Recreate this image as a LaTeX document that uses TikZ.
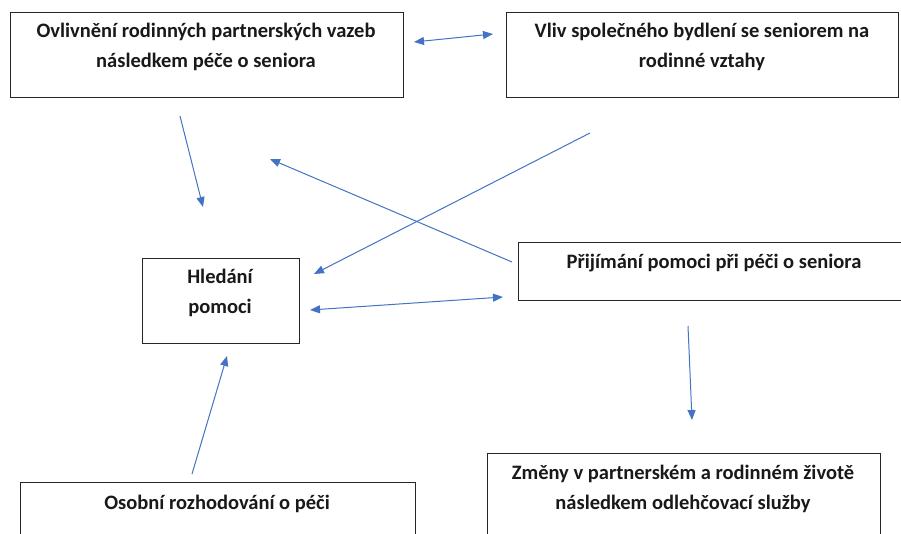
\documentclass[tikz,border=0pt]{standalone}
\usepackage{fontspec}
\setmainfont{Carlito}
\usetikzlibrary{arrows.meta}
\definecolor{arr}{HTML}{4472C4}
\definecolor{edgec}{HTML}{262626}
\begin{document}
\begin{tikzpicture}[x=1pt,y=-1pt,
  box/.style={draw=edgec, line width=1.3pt, anchor=north west, inner sep=0pt},
  txt/.style={font=\fontsize{20.5}{30}\selectfont\bfseries, align=center, text=black!90, inner sep=0pt, anchor=base},
  tip/.tip={Triangle[length=10pt,width=8pt]},
  link/.style={draw=arr, line width=1pt, -tip},
  both/.style={draw=arr, line width=1pt, tip-tip}]
\fill[white] (0,0) rectangle (901,533);
\clip (0,0) rectangle (901,533);

% boxes
\node[box, minimum width=393pt, minimum height=85pt] (b1) at (10,12) {};
\node[box, minimum width=392pt, minimum height=85pt] (b2) at (506,12) {};
\node[box, minimum width=157pt, minimum height=85pt] (b3) at (142,258) {};
\node[box, minimum width=392pt, minimum height=58pt] (b4) at (518,242) {};
\node[box, minimum width=395pt, minimum height=80pt] (b5) at (20,482) {};
\node[box, minimum width=393pt, minimum height=110pt] (b6) at (487,453) {};

% texts (anchor = baseline of last line)
\node[txt] (t1) at (206,67) {Ovlivnění rodinných partnerských vazeb\\následkem péče o seniora};
\node[txt] (t2) at (702,67) {Vliv společného bydlení se seniorem na\\rodinné vztahy};
\node[txt] (t3) at (220,313) {Hledání\\pomoci};
\node[txt] (t4) at (714,268) {Přijímání pomoci při péči o seniora};
\node[txt] (t5) at (217,509) {Osobní rozhodování o péči};
\node[txt] (t6) at (683,509) {Změny v partnerském a rodinném životě\\následkem odlehčovací služby};

% connector end points
\coordinate (a1s) at (414,42);  \coordinate (a1e) at (493,34);
\coordinate (a2s) at (180,116); \coordinate (a2e) at (203,207);
\coordinate (a3s) at (512,262); \coordinate (a3e) at (270,159);
\coordinate (a4s) at (590,133); \coordinate (a4e) at (314,274);
\coordinate (a5s) at (310,310); \coordinate (a5e) at (503,297);
\coordinate (a6s) at (688,326); \coordinate (a6e) at (692,420);
\coordinate (a7s) at (192,474); \coordinate (a7e) at (227,356);

\draw[both] (a1s) -- (a1e);
\draw[link] (a2s) -- (a2e);
\draw[link] (a3s) -- (a3e);
\draw[link] (a4s) -- (a4e);
\draw[both] (a5s) -- (a5e);
\draw[link] (a6s) -- (a6e);
\draw[link] (a7s) -- (a7e);
\end{tikzpicture}
\end{document}
